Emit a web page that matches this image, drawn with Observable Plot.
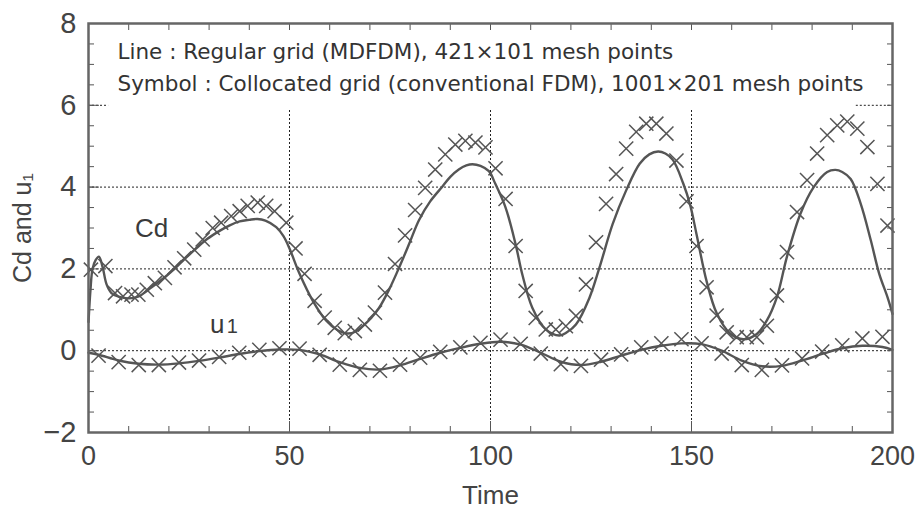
<!DOCTYPE html>
<html><head><meta charset="utf-8">
<script src="https://cdn.jsdelivr.net/npm/d3@7"></script>
<script src="https://cdn.jsdelivr.net/npm/@observablehq/plot@0.6"></script>
<style>body{margin:0;background:#fff;}</style>
</head><body><div id="chart"></div>
<script>
// Cd, regular grid (line)
const cdLineT = [0,0.5,1,1.8,2.6,3.5,4.5,5.7,7.5,10,12.5,15.7,18.5,21.4,24,26.8,29.5,32.6,35,37.6,40,42,44,46.7,48.5,50,52.5,55.8,59.1,62,64.5,66.5,68.2,70.3,72.3,74.8,77.3,79.8,82.2,85,88,90,92.1,94,95.5,97.5,99.6,101.2,103.75,106.25,107.9,110.4,113.75,117.1,119,121.25,124.6,127.1,130.4,133.75,137.1,139.5,141.7,143.5,145.4,147.9,149.6,151.25,153.75,156.25,159.6,162.9,166.25,168.75,171.25,173.75,177.1,180.4,183.75,185.8,187.5,189.6,192.1,194.6,196.7,198.75,200];
const cdLineV = [0.7,1.5,2.0,2.22,2.3,2.05,1.62,1.41,1.32,1.28,1.33,1.55,1.76,2.0,2.25,2.5,2.73,2.93,3.06,3.16,3.2,3.22,3.18,3.02,2.8,2.5,1.88,1.22,0.74,0.5,0.42,0.47,0.6,0.8,1.05,1.5,2.04,2.62,3.19,3.65,4.01,4.25,4.43,4.53,4.56,4.52,4.39,4.08,3.5,2.6,1.87,1.05,0.52,0.37,0.45,0.64,1.29,2.03,3.1,3.92,4.57,4.8,4.87,4.82,4.66,4.1,3.59,2.85,1.7,0.92,0.42,0.28,0.41,0.74,1.31,2.3,3.35,4.0,4.37,4.42,4.37,4.2,3.59,2.7,1.88,1.31,0.9];
// Cd, collocated grid (symbols)
const cdSymT = [0.6,4.2,6.6,8.6,10.7,12.4,14.5,16.5,19.0,21.4,23.8,26.3,28.4,30.9,33.0,35.5,37.6,39.6,42.1,44.2,46.3,49.2,51.5,
  53.75,56.25,58.75,61.25,63.75,66.25,68.75,71.25,73.75,76.25,78.75,81.25,83.75,86.25,88.75,91.25,93.75,96.25,98.75,
  101.25,103.75,106.25,108.75,111.25,113.75,116.25,118.75,121.25,123.75,126.25,128.75,131.25,133.75,136.25,138.75,141.25,143.75,146.25,148.75,151.25,
  153.75,156.25,158.75,161.25,163.75,166.25,168.75,171.25,173.75,176.25,178.75,181.25,183.75,186.25,188.75,191.25,193.75,196.25,198.75];
const cdSymV = [1.98,2.07,1.41,1.33,1.37,1.37,1.49,1.65,1.78,2.04,2.26,2.47,2.72,3.0,3.13,3.29,3.41,3.54,3.62,3.54,3.41,3.13,2.5,
  1.88,1.22,0.81,0.56,0.43,0.48,0.64,0.93,1.42,2.12,2.82,3.44,3.98,4.43,4.80,5.04,5.13,5.09,4.97,
  4.46,3.71,2.56,1.46,0.80,0.52,0.52,0.60,0.85,1.62,2.65,3.59,4.32,4.94,5.35,5.55,5.55,5.31,4.65,3.65,2.56,
  1.55,0.86,0.45,0.33,0.33,0.33,0.61,1.35,2.41,3.39,4.17,4.82,5.27,5.51,5.6,5.43,4.98,4.08,3.06];
// u1, regular grid (line)
const u1LineT = [0,2.5,7.5,12.5,17.5,22.5,27.5,32.5,37.5,42.5,47.5,52.5,57.5,62.5,67.5,72.5,77.5,82.5,87.5,92.5,97.5,102.5,107.5,112.5,117.5,122.5,127.5,132.5,137.5,142.5,147.5,152.5,157.5,162.5,167.5,172.5,177.5,182.5,187.5,192.5,197.5,200];
const u1LineV = [-0.05,-0.1,-0.24,-0.32,-0.34,-0.31,-0.25,-0.17,-0.08,-0.01,0.03,0.02,-0.09,-0.28,-0.42,-0.46,-0.36,-0.2,-0.05,0.07,0.17,0.22,0.15,-0.05,-0.27,-0.35,-0.27,-0.12,0.02,0.12,0.18,0.16,0.0,-0.24,-0.38,-0.37,-0.24,-0.08,0.06,0.12,0.09,0.02];
// u1, collocated grid (symbols)
const u1SymT = [2.5,7.5,12.5,17.5,22.5,27.5,32.5,37.5,42.5,47.5,52.5,57.5,62.5,67.5,72.5,77.5,82.5,87.5,92.5,97.5,102.5,107.5,112.5,117.5,122.5,127.5,132.5,137.5,142.5,147.5,152.5,157.5,162.5,167.5,172.5,177.5,182.5,187.5,192.5,197.5];
const u1SymV = [-0.12,-0.28,-0.35,-0.35,-0.29,-0.24,-0.15,-0.05,0.02,0.06,0.05,-0.10,-0.34,-0.47,-0.49,-0.34,-0.17,-0.03,0.08,0.19,0.27,0.17,-0.07,-0.33,-0.37,-0.22,-0.09,0.08,0.18,0.28,0.18,-0.07,-0.35,-0.47,-0.36,-0.19,-0.02,0.13,0.30,0.34];

// axes
const xTicks = [0,50,100,150,200];
const xMinorTicks = [0,10,20,30,40,50,60,70,80,90,100,110,120,130,140,150,160,170,180,190,200];
const yTicks = [-2,0,2,4,6,8];
const yMinorTicks = [-2,-1.5,-1,-0.5,0,0.5,1,1.5,2,2.5,3,3.5,4,4.5,5,5.5,6,6.5,7,7.5,8];
const gridX = [50,100,150];
const gridXTop = 5.9;
const gridY = [0,2,4];
const gridYSegments = [{y:6,x1:0,x2:5},{y:6,x1:191,x2:200}];

const legendLines = ["Line : Regular grid (MDFDM), 421\u00d7101 mesh points",
                     "Symbol : Collocated grid (conventional FDM), 1001\u00d7201 mesh points"];
const seriesLabels = [{text:"Cd", x:15.7, y:2.98, size:26},
                      {text:"u", x:32.0, y:0.64, size:26},
                      {text:"1", x:35.8, y:0.6, size:20}];

const cdLine = cdLineT.map((t,i)=>({t, v:cdLineV[i]}));
const cdSym = cdSymT.map((t,i)=>({t, v:cdSymV[i]}));
const u1Line = u1LineT.map((t,i)=>({t, v:u1LineV[i]}));
const u1Sym = u1SymT.map((t,i)=>({t, v:u1SymV[i]}));

const ink = "#555";
const font = "'Liberation Sans', Arial, sans-serif";

const chart = Plot.plot({
  width: 915, height: 511,
  marginLeft: 88, marginRight: 23, marginTop: 23, marginBottom: 79,
  x: {domain: [0,200]},
  y: {domain: [-2,8]},
  style: {fontFamily: font, color: "#444", background: "#fff"},
  marks: [
    Plot.ruleX(gridX, {y1: -2, y2: gridXTop, stroke: "#222", strokeDasharray: "2,2", strokeWidth: 1}),
    Plot.ruleY(gridY, {stroke: "#222", strokeDasharray: "2,2", strokeWidth: 1}),
    Plot.ruleY(gridYSegments, {y: "y", x1: "x1", x2: "x2", stroke: "#222", strokeDasharray: "2,2", strokeWidth: 1}),
    // minor ticks
    Plot.axisX(xMinorTicks, {anchor: "bottom", tickSize: -6, tickFormat: () => "", stroke: "#555"}),
    Plot.axisX(xMinorTicks, {anchor: "top", tickSize: -6, tickFormat: () => "", stroke: "#555"}),
    Plot.axisY(yMinorTicks, {anchor: "left", tickSize: -6, tickFormat: () => "", stroke: "#555"}),
    Plot.axisY(yMinorTicks, {anchor: "right", tickSize: -6, tickFormat: () => "", stroke: "#555"}),
    Plot.axisX(xTicks, {anchor: "bottom", tickSize: -11, tickFormat: () => "", stroke: "#555"}),
    Plot.axisY(yTicks, {anchor: "left", tickSize: -11, tickFormat: () => "", stroke: "#555"}),
    // tick labels
    Plot.axisX(xTicks, {anchor: "bottom", tickSize: 0, tickPadding: 13, fontSize: 27, fill: "#444", label: null, ariaLabel: "x-labels"}),
    Plot.axisY(yTicks, {anchor: "left", tickSize: 0, tickPadding: 12, fontSize: 29, fill: "#444", label: null, ariaLabel: "y-labels"}),
    // data
    Plot.line(cdLine, {x: "t", y: "v", stroke: ink, strokeWidth: 2.4, curve: "catmull-rom"}),
    Plot.line(u1Line, {x: "t", y: "v", stroke: ink, strokeWidth: 2.4, curve: "catmull-rom"}),
    Plot.dot(cdSym, {x: "t", y: "v", symbol: "times", r: 6.5, stroke: ink, strokeWidth: 1.5}),
    Plot.dot(u1Sym, {x: "t", y: "v", symbol: "times", r: 6.5, stroke: ink, strokeWidth: 1.5}),
    Plot.frame({stroke: "#666", strokeWidth: 2.5}),
    // labels
    Plot.text(seriesLabels, {x: "x", y: "y", text: "text", fontSize: "size", fill: "#3a3a3a"}),
    Plot.text([legendLines[0]], {frameAnchor: "top-left", dx: 29, dy: 29, textAnchor: "start", lineAnchor: "middle", fontSize: 21.5, fontFamily: "'DejaVu Sans', sans-serif", fill: "#333"}),
    Plot.text([legendLines[1]], {frameAnchor: "top-left", dx: 29, dy: 61, textAnchor: "start", lineAnchor: "middle", fontSize: 21.5, fontFamily: "'DejaVu Sans', sans-serif", fill: "#333"}),
    Plot.text(["Time"], {frameAnchor: "bottom", dy: 63, textAnchor: "middle", lineAnchor: "middle", fontSize: 26, fill: "#444", ariaLabel: "x-title"}),
    Plot.text(["Cd and u\u2081"], {frameAnchor: "left", dx: -66, rotate: -90, textAnchor: "middle", lineAnchor: "middle", fontSize: 25, fill: "#444", ariaLabel: "y-title"})
  ]
});
document.getElementById("chart").appendChild(chart);
// condense the axis typography to match the narrow face of the original
function condense(selector, k) {
  d3.select(chart).selectAll(selector).each(function() {
    const w = this.getComputedTextLength();
    if (w > 0) {
      this.setAttribute("textLength", (w * k).toFixed(1));
      this.setAttribute("lengthAdjust", "spacingAndGlyphs");
    }
  });
}
condense('g[aria-label="x-labels"] text', 0.88);
condense('g[aria-label="y-labels"] text, g[aria-label="x-title"] text, g[aria-label="y-title"] text', 0.82);
</script>
</body></html>
